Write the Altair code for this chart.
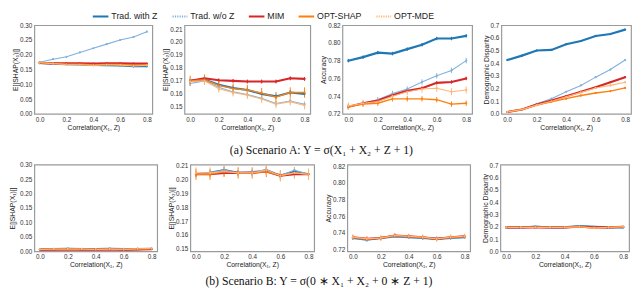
import altair as alt
import pandas as pd

xs = [0.0, 0.1, 0.2, 0.3, 0.4, 0.5, 0.6, 0.7, 0.8]
series = ["Trad. with Z", "Trad. w/o Z", "MIM", "OPT-SHAP", "OPT-MDE"]
colors = ["#1f77b4", "#7fb1dc", "#d62728", "#ff7f0e", "#ffb574"]

# ---------------- Scenario A ----------------
a1 = {
    "Trad. with Z": [0.172, 0.170, 0.168, 0.167, 0.166, 0.165, 0.164, 0.161, 0.161],
    "Trad. w/o Z": [0.175, 0.185, 0.193, 0.208, 0.222, 0.236, 0.250, 0.260, 0.278],
    "MIM": [0.172, 0.171, 0.171, 0.171, 0.170, 0.171, 0.171, 0.170, 0.170],
    "OPT-SHAP": [0.174, 0.171, 0.168, 0.168, 0.166, 0.167, 0.167, 0.165, 0.166],
    "OPT-MDE": [0.173, 0.170, 0.167, 0.166, 0.164, 0.166, 0.165, 0.162, 0.164],
}
a1_err = [0.001, 0.001, 0.001, 0.002, 0.002]

a2 = {
    "Trad. with Z": [0.170, 0.171, 0.167, 0.1645, 0.163, 0.160, 0.158, 0.161, 0.160],
    "Trad. w/o Z": [0.168, 0.170, 0.165, 0.1615, 0.1595, 0.1565, 0.1525, 0.1545, 0.152],
    "MIM": [0.170, 0.172, 0.1705, 0.170, 0.1695, 0.1695, 0.1695, 0.172, 0.1715],
    "OPT-SHAP": [0.170, 0.171, 0.1665, 0.164, 0.163, 0.1605, 0.1575, 0.161, 0.161],
    "OPT-MDE": [0.1695, 0.170, 0.164, 0.161, 0.159, 0.156, 0.152, 0.154, 0.151],
}
a2_err = [0.002, 0.002, 0.0015, 0.004, 0.003]

a3 = {
    "Trad. with Z": [0.780, 0.784, 0.789, 0.788, 0.793, 0.798, 0.805, 0.805, 0.808],
    "Trad. w/o Z": [0.728, 0.732, 0.736, 0.743, 0.748, 0.756, 0.763, 0.769, 0.780],
    "MIM": [0.728, 0.732, 0.735, 0.741, 0.746, 0.749, 0.755, 0.756, 0.760],
    "OPT-SHAP": [0.728, 0.731, 0.732, 0.737, 0.737, 0.737, 0.736, 0.731, 0.732],
    "OPT-MDE": [0.729, 0.732, 0.734, 0.740, 0.745, 0.748, 0.749, 0.745, 0.747],
}
a3_err = [0.002, 0.003, 0.002, 0.003, 0.004]

a4 = {
    "Trad. with Z": [0.425, 0.460, 0.500, 0.505, 0.550, 0.575, 0.615, 0.630, 0.665],
    "Trad. w/o Z": [0.015, 0.035, 0.080, 0.120, 0.175, 0.225, 0.290, 0.350, 0.425],
    "MIM": [0.015, 0.035, 0.075, 0.105, 0.140, 0.175, 0.210, 0.250, 0.290],
    "OPT-SHAP": [0.015, 0.035, 0.070, 0.095, 0.120, 0.145, 0.165, 0.180, 0.205],
    "OPT-MDE": [0.015, 0.035, 0.070, 0.100, 0.135, 0.170, 0.205, 0.225, 0.250],
}
a4_err = [0.005, 0.005, 0.005, 0.008, 0.008]

# ---------------- Scenario B ----------------
b1 = {
    "Trad. with Z": [0.007, 0.008, 0.009, 0.008, 0.008, 0.009, 0.008, 0.008, 0.009],
    "Trad. w/o Z": [0.008, 0.009, 0.010, 0.009, 0.008, 0.010, 0.009, 0.010, 0.010],
    "MIM": [0.006, 0.006, 0.007, 0.006, 0.006, 0.007, 0.005, 0.007, 0.008],
    "OPT-SHAP": [0.007, 0.007, 0.008, 0.007, 0.007, 0.008, 0.006, 0.008, 0.009],
    "OPT-MDE": [0.007, 0.008, 0.008, 0.008, 0.007, 0.008, 0.007, 0.009, 0.010],
}
b1_err = [0.003, 0.003, 0.002, 0.003, 0.003]

b2 = {
    "Trad. with Z": [0.204, 0.205, 0.207, 0.205, 0.205, 0.207, 0.203, 0.206, 0.204],
    "Trad. w/o Z": [0.204, 0.205, 0.207, 0.205, 0.206, 0.207, 0.203, 0.207, 0.204],
    "MIM": [0.204, 0.204, 0.205, 0.205, 0.205, 0.206, 0.203, 0.204, 0.204],
    "OPT-SHAP": [0.204, 0.204, 0.206, 0.205, 0.205, 0.206, 0.203, 0.205, 0.204],
    "OPT-MDE": [0.205, 0.205, 0.206, 0.205, 0.205, 0.207, 0.203, 0.205, 0.204],
}
b2_err = [0.002, 0.002, 0.002, 0.004, 0.004]

b3 = {
    "Trad. with Z": [0.734, 0.732, 0.734, 0.736, 0.735, 0.734, 0.733, 0.734, 0.735],
    "Trad. w/o Z": [0.734, 0.732, 0.734, 0.736, 0.735, 0.734, 0.733, 0.734, 0.735],
    "MIM": [0.735, 0.733, 0.734, 0.737, 0.736, 0.735, 0.733, 0.735, 0.736],
    "OPT-SHAP": [0.735, 0.733, 0.734, 0.737, 0.736, 0.735, 0.733, 0.735, 0.736],
    "OPT-MDE": [0.735, 0.733, 0.734, 0.737, 0.736, 0.735, 0.733, 0.735, 0.736],
}
b3_err = [0.002, 0.002, 0.002, 0.003, 0.003]

b4 = {
    "Trad. with Z": [0.195, 0.195, 0.200, 0.195, 0.195, 0.205, 0.200, 0.195, 0.195],
    "Trad. w/o Z": [0.195, 0.195, 0.205, 0.195, 0.195, 0.205, 0.200, 0.195, 0.195],
    "MIM": [0.195, 0.195, 0.195, 0.195, 0.195, 0.200, 0.195, 0.195, 0.200],
    "OPT-SHAP": [0.195, 0.195, 0.195, 0.195, 0.195, 0.200, 0.190, 0.195, 0.200],
    "OPT-MDE": [0.195, 0.195, 0.195, 0.195, 0.195, 0.200, 0.190, 0.195, 0.200],
}
b4_err = [0.005, 0.005, 0.005, 0.008, 0.008]

ticks_shap1 = [0.00, 0.05, 0.10, 0.15, 0.20, 0.25, 0.30]
ticks_shap2 = [0.15, 0.16, 0.17, 0.18, 0.19, 0.20, 0.21]
ticks_acc = [0.72, 0.74, 0.76, 0.78, 0.80, 0.82]
ticks_dd = [0.0, 0.1, 0.2, 0.3, 0.4, 0.5, 0.6, 0.7]
x_ticks = [0.0, 0.2, 0.4, 0.6, 0.8]
legend_dash = [[1, 0], [1.2, 1.2], [1, 0], [1, 0], [1.2, 1.2]]

FONT = "Liberation Sans"


def make_df(vals, errs):
    rows = []
    for si, s in enumerate(series):
        for xi, x in enumerate(xs):
            v = vals[s][xi]
            e = errs[si]
            rows.append({"x": x, "y": v, "lo": v - e, "hi": v + e, "series": s})
    return pd.DataFrame(rows)


legend = alt.Legend(
    title=None,
    orient="none",
    legendX=60,
    legendY=-14,
    direction="horizontal",
    symbolType="M-2,0H2",
    symbolSize=100,
    symbolStrokeWidth=2,
    clipHeight=10,
    labelFont=FONT,
    labelFontSize=9,
    labelColor="#222",
    labelOffset=7,
    columnPadding=14,
    padding=0,
)

color_enc = alt.Color("series:N", scale=alt.Scale(domain=series, range=colors), legend=legend)
dash_enc = alt.StrokeDash("series:N", scale=alt.Scale(domain=series, range=legend_dash), legend=legend)

width_enc = (
    alt.when(alt.FieldOneOfPredicate(field="series", oneOf=["Trad. with Z", "MIM"]))
    .then(alt.value(2.2))
    .when(alt.FieldEqualPredicate(field="series", equal="OPT-SHAP"))
    .then(alt.value(1.4))
    .otherwise(alt.value(1.1))
)


def panel(vals, errs, ydom, yticks, yfmt, ytitle, w, h, ytitle_pad=1, with_key=False):
    df = make_df(vals, errs)
    xenc = alt.X(
        "x:Q",
        scale=alt.Scale(domain=[-0.04, 0.84], nice=False, zero=False),
        axis=alt.Axis(
            values=x_ticks, tickCount=20, format=".1f", title="Correlation(X₁, Z)", labelOverlap=False
        ),
    )
    yenc = alt.Y(
        "y:Q",
        scale=alt.Scale(domain=ydom, nice=False, zero=False),
        axis=alt.Axis(
            values=yticks,
            tickCount=20,
            format=yfmt,
            title=ytitle,
            titlePadding=ytitle_pad,
            labelOverlap=False,
        ),
    )
    base = alt.Chart(df)
    line = base.mark_line(clip=True).encode(x=xenc, y=yenc, color=color_enc, strokeWidth=width_enc)
    err = base.mark_rule(clip=True, strokeWidth=1).encode(
        x="x:Q", y="lo:Q", y2="hi:Q", color=color_enc
    )
    pts = base.mark_point(filled=True, size=5, opacity=1, clip=True).encode(
        x="x:Q", y="y:Q", color=color_enc
    )
    layers = [line, err, pts]
    if with_key:
        key = base.mark_line(opacity=0, clip=True).encode(
            x="x:Q", y="y:Q", color=color_enc, strokeDash=dash_enc
        )
        layers.append(key)
    return alt.layer(*layers).properties(width=w, height=h)


shap1_t = "E[|SHAP(X₁)|]"
shap2_t = "E[|SHAP(X₂)|]"

rowA = alt.hconcat(
    panel(a1, a1_err, [0.0, 0.30], ticks_shap1, ".2f", shap1_t, 121, 91, with_key=True),
    panel(a2, a2_err, [0.1445, 0.213], ticks_shap2, ".2f", shap2_t, 129, 91),
    panel(a3, a3_err, [0.72, 0.82], ticks_acc, ".2f", "Accuracy", 133, 91),
    panel(a4, a4_err, [0.0, 0.70], ticks_dd, ".1f", "Demographic Disparity", 133, 91),
    spacing=8,
).properties(
    title=alt.TitleParams(
        text="(a) Scenario A: Y = σ(X₁ + X₂ + Z + 1)",
        orient="bottom",
        anchor="middle",
        font="Liberation Serif",
        fontSize=12,
        fontWeight="normal",
        color="#111",
        offset=15,
    )
)

rowB = alt.hconcat(
    panel(b1, b1_err, [0.0, 0.30], ticks_shap1, ".2f", shap1_t, 126, 89, ytitle_pad=4),
    panel(b2, b2_err, [0.148, 0.211], ticks_shap2, ".2f", shap2_t, 127, 89),
    panel(b3, b3_err, [0.718, 0.822], ticks_acc, ".2f", "Accuracy", 126, 89),
    panel(b4, b4_err, [0.0, 0.705], ticks_dd, ".1f", "Demographic Disparity", 132, 89),
    spacing=9,
).properties(
    title=alt.TitleParams(
        text="(b) Scenario B: Y = σ(0 ∗ X₁ + X₂ + 0 ∗ Z + 1)",
        orient="bottom",
        anchor="middle",
        font="Liberation Serif",
        fontSize=12,
        fontWeight="normal",
        color="#111",
        offset=8,
    )
)

chart = (
    alt.vconcat(rowA, rowB, spacing=4)
    .properties(padding=0)
    .configure_view(stroke="#9a9a9a", strokeWidth=1.2)
    .configure_axis(
        labelFont=FONT,
        labelFontSize=6.5,
        labelColor="#333",
        labelOverlap=False,
        labelFlush=False,
        titleFont=FONT,
        titleFontSize=7,
        titleFontWeight="normal",
        titleColor="#222",
        ticks=False,
        domain=False,
        grid=False,
        labelPadding=2.5,
        titlePadding=1,
    )
)

chart.save("out.html", embed_options={"renderer": "svg", "actions": False})
